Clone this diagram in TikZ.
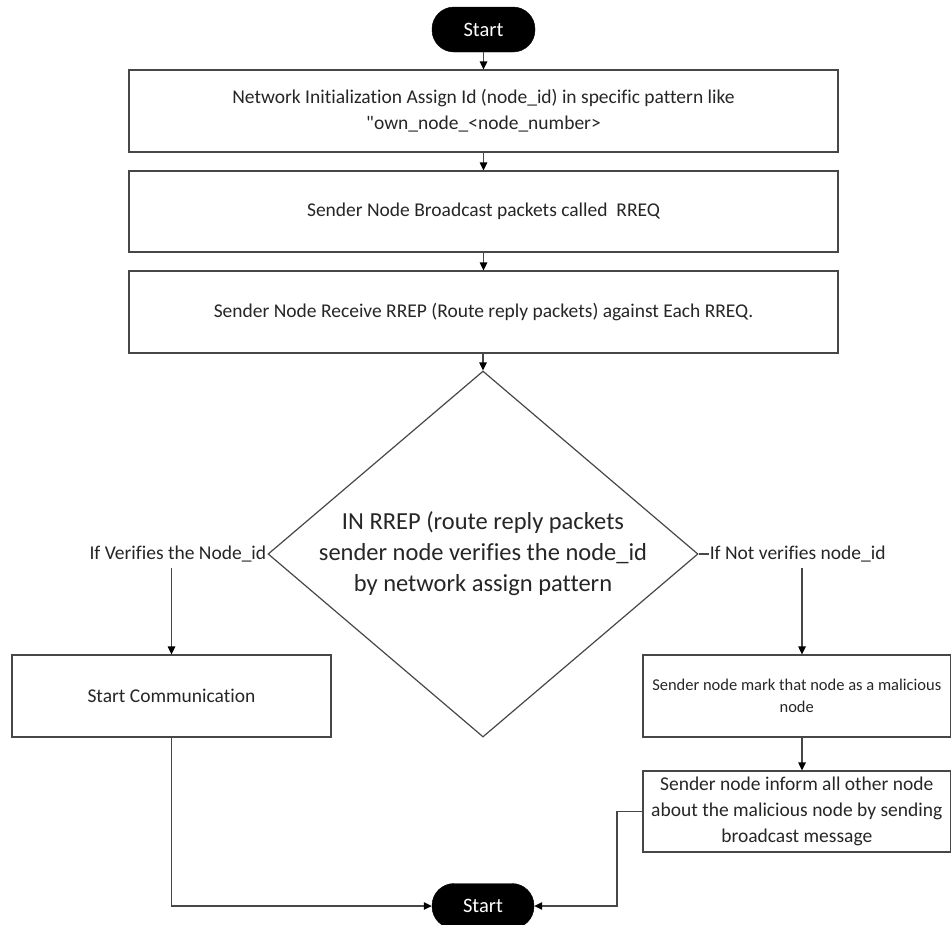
\documentclass[tikz,border=0pt]{standalone}
\usepackage{fontspec}
\setmainfont{Carlito}[Ligatures={TeXOff,CommonOff}]
\usetikzlibrary{shapes.geometric,arrows.meta}
\begin{document}
\begin{tikzpicture}[x=1pt,y=-1pt,
  line/.style={draw=black!72, line width=1.2pt},
  arr/.style={line, -{Triangle[length=8pt,width=7.5pt,color=black]}},
  box/.style={draw=black!72, line width=1.2pt, rectangle, inner sep=0pt,
    text=black!85, font=\fontsize{19.5}{26}\selectfont, align=center},
  term/.style={rectangle, rounded corners=22pt, fill=black, draw=black,
    text=white, inner sep=0pt, minimum width=103pt, minimum height=45pt,
    font=\fontsize{20.5}{23}\selectfont},
  lbl/.style={inner sep=1pt, text=black!85, font=\fontsize{19.5}{23}\selectfont}]
\useasboundingbox (0,0) rectangle (952,924);
\fill[white] (0,0) rectangle (952,924);

\node[term] (start) at (483.5,29.5) {Start};
\node[box, minimum width=709pt, minimum height=82pt] (b1) at (483.5,111)
  {Network Initialization Assign Id (node\_id) in specific pattern like\\
   "own\_node\_<node\_number>};
\node[box, minimum width=709pt, minimum height=81pt] (b2) at (483.5,211.5)
  {Sender Node Broadcast packets called \ RREQ};
\node[box, minimum width=709pt, minimum height=82pt] (b3) at (483.5,312)
  {Sender Node Receive RREP (Route reply packets) against Each RREQ.};

\node[diamond, draw=black!72, line width=1.2pt, inner sep=0pt,
  minimum width=430pt, minimum height=366pt] (dia) at (483,554) {};
\node[align=center, text=black!85, font=\fontsize{24.5}{31}\selectfont]
  (diatext) at (483,554)
  {IN RREP (route reply packets\\ sender node verifies the node\_id\\ by network assign pattern};

\node[lbl, anchor=east] (lv) at (dia.west) {If Verifies the Node\_id};
\node[lbl, anchor=west] (rv) at ([xshift=10pt]dia.east) {If Not verifies node\_id};

\node[box, minimum width=319pt, minimum height=82pt] (comm) at (171.5,696)
  {Start Communication};
\node[box, minimum width=307.5pt, minimum height=82pt,
  font=\fontsize{16.5}{22}\selectfont] (mal1) at (796.75,696)
  {Sender node mark that node as a malicious\\ node};
\node[box, minimum width=307.5pt, minimum height=81pt] (mal2) at (796.75,811.5)
  {Sender node inform all other node\\ about the malicious node by sending\\ broadcast message};

\node[term, minimum width=102pt] (end) at (483,906) {Start};

\coordinate (ldrop) at (171.5,568);
\coordinate (rdrop) at (802,568);
\coordinate (lcorner) at (171.5,906);
\coordinate (rbend) at (617,811.5);
\coordinate (rcorner) at (617,906);

\draw[arr] (start) -- (b1);
\draw[arr] (b1) -- (b2);
\draw[arr] (b2) -- (b3);
\draw[arr] (b3.south -| dia.north) -- (dia.north);
\draw[line] (dia.east) -- (rv.west);
\draw[arr] (ldrop) -- (ldrop |- comm.north);
\draw[arr] (rdrop) -- (rdrop |- mal1.north);
\draw[arr] (rdrop |- mal1.south) -- (rdrop |- mal2.north);
\draw[arr] (comm.south) -- (lcorner) -- (end.west);
\draw[arr] (mal2.west) -- (rbend) -- (rcorner) -- (end.east);
\end{tikzpicture}
\end{document}
